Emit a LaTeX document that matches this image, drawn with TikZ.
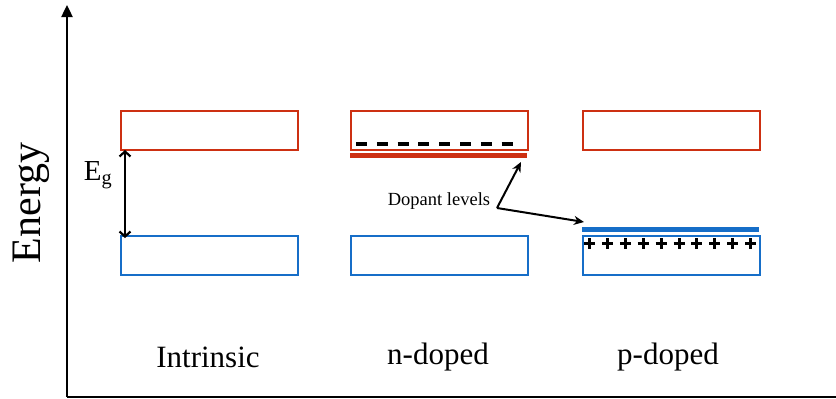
\documentclass[tikz,border=0pt]{standalone}
\usepackage{fontspec}
\setmainfont{Liberation Serif}
\usetikzlibrary{arrows.meta}
\definecolor{cbred}{RGB}{205,48,18}
\definecolor{vbblue}{RGB}{22,110,200}
\begin{document}
\begin{tikzpicture}[x=1pt,y=-1pt,
  band/.style={draw, line width=2pt, minimum width=177pt, minimum height=39pt, inner sep=0pt, anchor=north west},
  cb/.style={band, draw=cbred},
  vb/.style={band, draw=vbblue},
  lbl/.style={font=\fontsize{31}{36}\selectfont},
  ax/.style={line width=2.4pt, -{Triangle[length=12pt,width=11pt]}}]
\useasboundingbox (0,0) rectangle (836,399);
% axes
\coordinate (o) at (67,397);
\coordinate (ytop) at (67,5);
\coordinate (xend) at (836,397);
\draw[ax] (o) -- (ytop);
\draw[line width=2.4pt] (o) -- (xend);
\node[rotate=90, font=\fontsize{42}{48}\selectfont] (energy) at (31,203) {Energy};
% bands
\node[cb] (icb) at (120,110) {};
\node[vb] (ivb) at (120,235) {};
\node[cb] (ncb) at (350,110) {};
\node[vb] (nvb) at (350,235) {};
\node[cb] (pcb) at (582,110) {};
\node[vb] (pvb) at (582,235) {};
% dopant levels
\draw[cbred, line width=4.5pt] (350,155.5) -- (527,155.5);
\draw[vbblue, line width=4.5pt] (582,229.5) -- (759,229.5);
\foreach \i in {0,...,7} \draw[line width=3.2pt] (356+\i*20.8,144) -- ++(11,0);
\foreach \i in {0,...,9} \draw[line width=3pt] (589.5+\i*17.9,243.5) ++(-5.5,0) -- ++(11,0) ++(-5.5,-5.5) -- ++(0,11);
% Eg
\coordinate (eg1) at (125,150);
\coordinate (eg2) at (125,238);
\draw[line width=2.2pt, {Straight Barb[length=5pt,width=11pt]}-{Straight Barb[length=5pt,width=11pt]}] (eg1) -- (eg2);
\node[font=\fontsize{29}{34}\selectfont] (eg) at (98,175) {E\textsubscript{g}};
% dopant label
\node[font=\fontsize{18.5}{22}\selectfont] (dl) at (439,201) {Dopant levels};
\coordinate (dj) at (497,208);
\coordinate (na) at (521,162);
\coordinate (pa) at (584,222);
\draw[line width=2pt, -{Stealth[length=10pt,width=9pt]}] (dj) -- (na);
\draw[line width=2pt, -{Stealth[length=10pt,width=9pt]}] (dj) -- (pa);
% labels
\node[lbl] (li) at (208,357) {Intrinsic};
\node[lbl] (ln) at (438,357) {n-doped};
\node[lbl] (lp) at (668,357) {p-doped};
\end{tikzpicture}
\end{document}
